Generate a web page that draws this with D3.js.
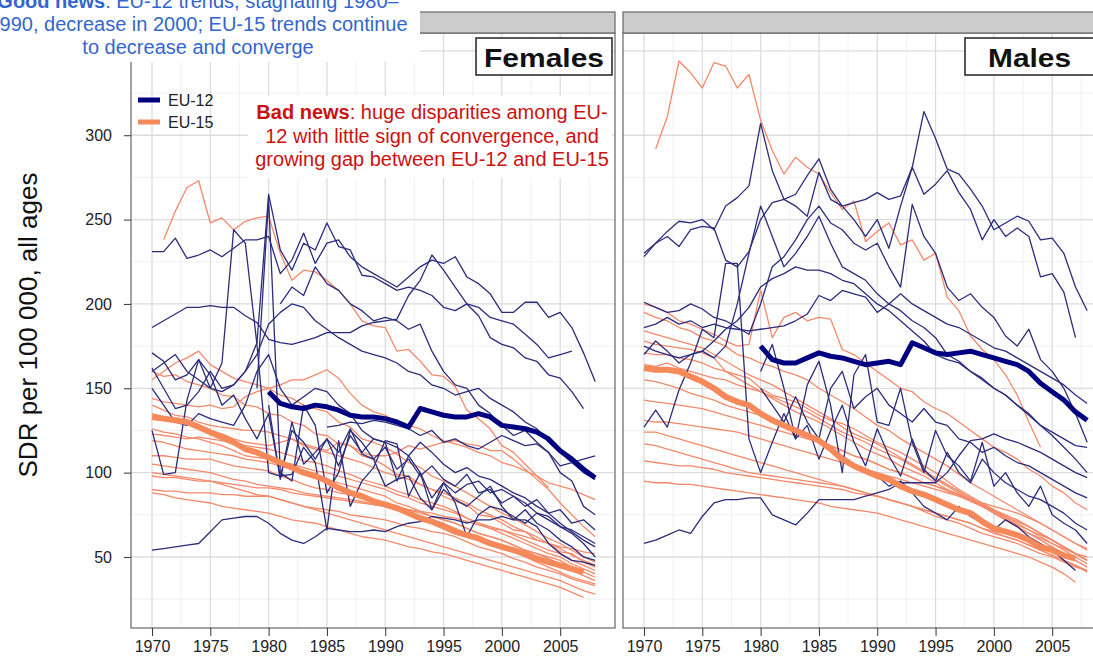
<!DOCTYPE html>
<html>
<head>
<meta charset="utf-8">
<script src="https://cdn.jsdelivr.net/npm/d3@7"></script>
<style>
  body { margin: 0; background: #fff; }
  svg { display: block; font-family: "Liberation Sans", Arial, sans-serif; }
</style>
</head>
<body>
<svg id="chart" width="1093" height="656"></svg>
<script>
// ---- data (SDR per 100 000, all ages) ----
const xTickYears = [1970, 1975, 1980, 1985, 1990, 1995, 2000, 2005];
const yTickValues = [50, 100, 150, 200, 250, 300];

// group averages
const femalesEU15Mean = { start: 1970, values: [133,132,131,130,127,124,121,118,114,112,109,106,103,100,98,95,91,88,86,83,81,79,76,73,71,68,65,63,61,58,56,54,52,49,47,45,43,41] };
const femalesEU12Mean = { start: 1980, values: [148,141,139,138,140,139,137,134,133,133,132,130,127,138,136,134,133,133,135,133,128,127,126,124,120,113,108,102,97] };
const malesEU15Mean = { start: 1970, values: [162,161,161,160,157,154,150,145,142,140,135,131,128,125,122,119,114,108,104,101,98,96,92,89,87,84,81,78,76,71,67,65,63,60,56,54,51,49] };
const malesEU12Mean = { start: 1980, values: [175,167,165,165,168,171,169,168,166,164,165,166,164,177,174,171,170,171,172,170,168,166,164,160,153,148,143,136,131] };

// EU-15 countries, females
const femalesEU15Lines = [
  { start: 1971, values: [238,255,269,273,248,251,244,249,251,252,230,214,220,219,214,208,200,190,187,186,172,173,166,158,157,151,137,132,126,116,112,105,98,91] },
  { start: 1970, values: [160,157,158,154,152,150,146,145,140,139,135,134,130,128,123,122,117,116,110,108,104,99,98,93,90,86,83,81,75,74,70,66,65,60,58,53,52,47,44] },
  { start: 1970, values: [155,160,165,168,172,164,160,156,154,152,150,146,144,140,138,136,130,127,120,118,115,111,106,103,98,95,92,88,84,80,76,73,69,65,61,58,54,50,47] },
  { start: 1970, values: [144,142,141,140,139,140,138,139,145,148,150,152,155,155,158,161,156,147,140,136,134,130,128,126,122,119,117,115,112,110,106,104,101,98,94,92,90,87,84] },
  { start: 1970, values: [140,137,134,133,130,128,127,126,125,125,124,122,120,116,114,112,110,108,106,103,100,98,96,93,90,88,85,82,78,75,72,68,65,62,58,55,51,48,45] },
  { start: 1970, values: [126,124,123,121,120,118,116,113,110,109,108,106,105,103,101,100,98,96,94,92,90,87,85,82,80,78,76,73,70,68,66,63,60,57,54,52,48,45,42] },
  { start: 1970, values: [123,122,121,120,121,120,119,117,116,115,114,112,110,107,106,104,101,99,96,94,92,89,87,84,82,80,77,73,70,67,64,61,58,55,52,50,46,43,40] },
  { start: 1970, values: [119,118,116,114,113,112,111,110,108,107,106,104,102,99,98,96,94,92,90,88,86,82,80,77,74,72,70,67,64,62,60,57,54,52,50,48,44,41,38] },
  { start: 1970, values: [110,110,109,108,108,108,106,104,103,102,101,98,96,93,91,90,88,87,85,83,82,80,78,76,74,72,70,67,64,62,60,57,54,52,49,46,42,39,36] },
  { start: 1970, values: [105,104,103,102,101,100,98,96,95,93,92,91,90,88,87,86,85,84,83,81,80,79,78,77,76,74,73,71,69,67,66,64,62,60,58,56,55,53,52] },
  { start: 1970, values: [98,97,97,96,95,95,94,93,92,91,91,90,88,87,86,85,84,83,82,81,80,78,76,74,72,70,67,64,61,58,56,53,50,47,44,41,38,36,34] },
  { start: 1970, values: [90,89,89,88,88,88,87,87,86,86,86,84,82,80,79,78,77,75,74,73,72,70,68,67,65,64,62,59,56,54,52,49,47,44,42,40,37,35,33] },
  { start: 1970, values: [100,99,98,97,96,95,93,91,89,87,86,84,82,80,78,76,74,72,70,68,66,64,62,60,58,56,54,52,50,48,46,44,42,40,38,36,33,30,28] },
  { start: 1970, values: [88,87,85,84,83,82,80,79,78,77,76,74,72,71,70,68,66,64,62,61,60,58,56,55,53,52,50,48,46,44,42,40,38,36,34,32,29,26] },
  { start: 1970, values: [135,133,131,130,128,125,123,120,118,117,116,118,120,117,115,113,118,116,112,110,110,112,116,114,116,118,119,117,116,113,113,108,102,96,90,82,75,68,62] }
];

// EU-12 countries, females
const femalesEU12Lines = [
  { start: 1970, values: [231,231,239,227,229,232,228,233,238,238,240,218,226,242,224,236,238,228,222,218,214,210,216,222,226,224,228,216,212,206,195,195,201,201,192,195,186,171,154] },
  { start: 1970, values: [186,190,194,198,198,199,198,198,193,189,179,177,176,178,180,183,183,183,187,189,190,191,205,214,229,220,210,200,193,180,176,174,168,166,158,156,148,138] },
  { start: 1970, values: [162,150,138,140,148,160,150,152,160,177,265,232,220,236,232,248,234,232,217,216,212,208,210,208,205,198,196,200,198,192,190,188,182,176,168,170,172] },
  { start: 1970, values: [171,166,155,158,167,150,165,244,236,176,100,98,99,115,106,66,119,80,95,103,119,117,86,100,78,94,82,62,75,80,78,74,70,76,72,68,66,62,58] },
  { start: 1970, values: [125,99,100,143,167,158,140,146,132,120,135,97,125,118,108,120,112,126,111,108,115,102,108,98,104,96,92,99,88,90,82,86,80,84,76,78,70,72,66] },
  { start: 1970, values: [54,55,56,57,58,65,72,73,74,74,70,64,60,58,62,67,66,65,65,66,65,68,70,71,74,73,72,70,72,72,74,72,72,68,58,52,48,47,45] },
  { start: 1985, values: [127,128,130,129,131,130,128,126,122,125,118,120,116,114,118,122,119,116,117,112,104,106,108,110] },
  { start: 1981, values: [200,210,205,222,212,208,200,196,190,192,190,185,188,172,160,152,150,140,135,128,122,125,118,112,100,95,80,75] },
  { start: 1970, values: [150,140,130,128,135,132,130,128,140,160,170,150,140,145,150,148,140,135,125,120,118,115,110,118,112,105,100,103,98,96,92,88,85,80,76,70,65,60,56] },
  { start: 1980, values: [140,96,130,105,112,120,104,122,112,120,118,95,110,100,85,94,88,93,95,88,90,86,82,76,74,68,64,58,50] },
  { start: 1979, values: [150,262,100,95,140,128,88,100,125,118,108,92,96,98,85,78,90,84,80,86,92,80,72,78,70,66,60,56,50,48] },
  { start: 1970, values: [160,165,170,160,155,150,148,152,160,170,188,195,200,198,190,185,180,176,172,170,168,165,160,158,152,150,146,148,150,144,140,136,130,126,118,112,106,100,96] }
];

// EU-15 countries, males
const malesEU15Lines = [
  { start: 1971, values: [292,311,344,337,328,343,341,328,336,309,291,277,287,281,277,266,256,261,237,243,248,235,238,226,230,204,196,181,173,167,158,146,130,115] },
  { start: 1970, values: [200,198,195,190,188,185,182,178,175,176,208,180,192,195,190,192,191,173,170,165,160,155,150,148,142,138,135,130,125,120,115,112,108,102,98,92,88,82,78] },
  { start: 1970, values: [195,192,190,186,184,180,178,175,170,168,165,163,160,158,155,150,146,142,138,133,128,125,120,116,112,108,104,99,94,90,86,82,78,74,70,66,62,58,55] },
  { start: 1970, values: [184,182,180,178,176,174,170,166,162,158,155,152,148,144,140,136,132,127,123,120,117,113,109,105,101,97,93,89,85,81,77,73,69,66,63,60,56,52,48] },
  { start: 1970, values: [178,176,175,174,173,171,168,160,156,152,148,145,142,139,136,132,128,124,121,118,114,111,108,104,100,96,92,88,84,80,76,72,68,64,61,58,54,50,46] },
  { start: 1970, values: [171,170,170,168,167,165,162,160,158,156,150,146,144,142,138,134,131,129,126,122,118,115,112,108,104,100,95,90,86,82,78,74,70,66,62,58,55,52,50] },
  { start: 1970, values: [164,163,165,162,160,158,156,155,152,150,148,144,140,136,133,130,126,122,118,114,111,108,104,101,98,94,90,87,84,80,76,72,68,64,60,56,52,48,44] },
  { start: 1970, values: [155,154,152,150,147,145,143,140,138,136,134,131,128,125,122,119,116,113,110,108,105,102,100,97,94,92,89,86,83,80,77,74,71,68,64,60,56,52,48] },
  { start: 1970, values: [143,142,141,140,139,138,136,134,132,130,128,126,124,122,120,118,116,113,110,108,105,102,100,97,94,92,90,87,84,81,78,75,72,68,64,60,56,52,48] },
  { start: 1970, values: [131,130,130,129,128,127,126,125,124,122,120,118,116,114,112,110,108,106,104,102,100,98,96,94,92,90,88,86,84,82,80,78,76,73,70,66,62,58,54] },
  { start: 1970, values: [124,124,122,120,118,116,114,112,110,108,106,104,102,100,98,96,94,92,90,88,86,84,82,80,77,74,72,70,67,64,62,60,58,55,52,50,47,44,42] },
  { start: 1970, values: [117,116,114,112,110,108,106,104,102,100,99,98,97,96,95,94,93,92,90,88,86,84,82,80,78,76,74,72,70,67,64,62,60,57,54,51,48,45,42] },
  { start: 1970, values: [107,106,105,104,104,103,102,100,99,98,97,96,95,94,93,92,91,90,88,87,86,84,82,80,78,76,74,72,70,67,65,62,60,57,54,51,48,45,41] },
  { start: 1970, values: [95,94,94,93,93,92,91,90,89,88,87,86,85,84,83,82,80,79,78,77,76,74,72,70,68,66,64,62,60,58,56,54,52,50,47,44,40,35] }
];

// EU-12 countries, males
const malesEU12Lines = [
  { start: 1970, values: [228,236,243,249,248,250,244,258,263,270,307,279,262,265,276,286,268,258,260,262,266,262,264,281,314,298,280,277,268,258,244,248,252,249,238,239,230,210,196] },
  { start: 1970, values: [230,236,240,234,244,246,245,226,222,231,250,260,262,258,252,278,262,258,250,240,250,233,258,281,265,271,279,266,256,238,250,240,245,240,216,218,207,180] },
  { start: 1970, values: [201,198,195,196,200,197,192,190,186,182,200,222,228,238,250,258,248,244,236,232,236,222,210,259,240,230,210,202,206,198,192,181,175,185,167,160,150,135,118] },
  { start: 1970, values: [186,188,192,188,190,186,188,186,185,184,185,186,187,190,194,205,202,208,206,204,195,200,206,200,196,192,188,186,182,178,174,172,168,164,160,156,152,146,141] },
  { start: 1970, values: [127,137,127,149,165,185,180,224,224,120,100,118,135,120,128,108,125,140,118,104,126,110,98,120,102,95,112,100,94,108,100,94,90,86,84,80,76,70,66] },
  { start: 1970, values: [58,60,63,66,64,74,82,84,84,85,85,75,72,69,76,84,84,84,84,86,88,90,94,94,94,94,100,110,119,120,123,120,118,115,112,108,104,100,97] },
  { start: 1980, values: [160,176,150,120,152,166,140,100,158,170,130,128,150,118,100,125,110,104,95,118,92,100,88,80,92,75,70,66,58] },
  { start: 1970, values: [170,178,172,165,170,172,168,175,200,230,258,240,222,230,240,252,236,222,218,214,206,200,196,190,186,180,170,166,160,155,150,146,140,135,128,122,115,108,100] },
  { start: 1970, values: [175,172,170,168,170,172,178,185,190,198,210,215,218,222,220,220,218,214,212,206,200,196,190,184,178,170,167,165,160,156,150,146,140,134,128,124,120,116,115] },
  { start: 1980, values: [150,140,130,145,130,120,150,160,138,145,150,140,135,130,138,130,128,120,118,112,115,110,106,104,100,96,92,88,85] },
  { start: 1987, values: [110,105,100,98,92,95,88,80,76,72,80,74,70,66,72,68,62,58,54,48,42] }
];

// ---- layout ----
const W = 1093, H = 656;
const plotTop = 33, plotBottom = 628, stripTop = 12;
const yearDomain = [1968.2, 2009.7];
const navy = "#2c2c7c", navyThick = "#000080";
const salmon = "#f4896a", salmonThick = "#f5895a";

const panels = [
  { title: "Females", left: 131, right: 615, eu15: femalesEU15Lines, eu12: femalesEU12Lines, mean15: femalesEU15Mean, mean12: femalesEU12Mean, box: [476, 612], textLen: 120, yAxis: true },
  { title: "Males", left: 623, right: 1107, eu15: malesEU15Lines, eu12: malesEU12Lines, mean15: malesEU15Mean, mean12: malesEU12Mean, box: [965, 1100], textLen: 83, yAxis: false }
];

const svg = d3.select("#chart");
svg.append("rect").attr("width", W).attr("height", H).attr("fill", "#fff");

const y = d3.scaleLinear().domain([7.9, 360.6]).range([plotBottom, plotTop]);
const toPoints = s => s.values.map((v, i) => [s.start + i, v]);

panels.forEach((p, k) => {
  const x = d3.scaleLinear().domain(yearDomain).range([p.left, p.right]);
  const g = svg.append("g");

  g.append("clipPath").attr("id", "clip" + k)
    .append("rect")
    .attr("x", p.left).attr("y", plotTop)
    .attr("width", p.right - p.left).attr("height", plotBottom - plotTop);

  // minor grid
  const minorX = [1967.5, 1972.5, 1977.5, 1982.5, 1987.5, 1992.5, 1997.5, 2002.5, 2007.5];
  const minorY = [25, 75, 125, 175, 225, 275, 325];
  const grid = g.append("g").attr("clip-path", `url(#clip${k})`);
  grid.selectAll(".mx").data(minorX).enter().append("line")
    .attr("x1", d => x(d)).attr("x2", d => x(d))
    .attr("y1", plotTop).attr("y2", plotBottom)
    .attr("stroke", "#f0f0f0").attr("stroke-width", 1);
  grid.selectAll(".my").data(minorY).enter().append("line")
    .attr("x1", p.left).attr("x2", p.right)
    .attr("y1", d => y(d)).attr("y2", d => y(d))
    .attr("stroke", "#f0f0f0").attr("stroke-width", 1);
  // major grid
  grid.selectAll(".gx").data(xTickYears).enter().append("line")
    .attr("x1", d => x(d)).attr("x2", d => x(d))
    .attr("y1", plotTop).attr("y2", plotBottom)
    .attr("stroke", "#dcdcdc").attr("stroke-width", 1.3);
  grid.selectAll(".gy").data([50, 100, 150, 200, 250, 300, 350]).enter().append("line")
    .attr("x1", p.left).attr("x2", p.right)
    .attr("y1", d => y(d)).attr("y2", d => y(d))
    .attr("stroke", "#dcdcdc").attr("stroke-width", 1.3);

  const line = d3.line().x(d => x(d[0])).y(d => y(d[1]));
  const lines = g.append("g").attr("clip-path", `url(#clip${k})`)
    .attr("fill", "none").attr("stroke-linejoin", "round");

  lines.selectAll(".s15").data(p.eu15).enter().append("path")
    .attr("d", d => line(toPoints(d)))
    .attr("stroke", salmon).attr("stroke-width", 1.3);
  lines.selectAll(".s12").data(p.eu12).enter().append("path")
    .attr("d", d => line(toPoints(d)))
    .attr("stroke", navy).attr("stroke-width", 1.3);
  lines.append("path").attr("d", line(toPoints(p.mean15)))
    .attr("stroke", salmonThick).attr("stroke-width", 6);
  lines.append("path").attr("d", line(toPoints(p.mean12)))
    .attr("stroke", navyThick).attr("stroke-width", 5);

  // panel border and strip
  g.append("rect")
    .attr("x", p.left).attr("y", plotTop)
    .attr("width", p.right - p.left).attr("height", plotBottom - plotTop)
    .attr("fill", "none").attr("stroke", "#666").attr("stroke-width", 1.2);
  g.append("rect")
    .attr("x", p.left).attr("y", stripTop)
    .attr("width", p.right - p.left).attr("height", plotTop - stripTop)
    .attr("fill", "#cccccc").attr("stroke", "#666").attr("stroke-width", 1.2);

  // x axis
  const xAxis = g.append("g")
    .attr("transform", `translate(0,${plotBottom})`)
    .call(d3.axisBottom(x).tickValues(xTickYears).tickFormat(d3.format("d")).tickSize(8).tickPadding(5));
  xAxis.select(".domain").remove();
  xAxis.selectAll("line").attr("stroke", "#333");
  xAxis.selectAll("text").attr("font-size", 16).attr("fill", "#222")
    .attr("font-family", "Liberation Sans, Arial, sans-serif");

  if (p.yAxis) {
    const yAxis = g.append("g")
      .attr("transform", `translate(${p.left},0)`)
      .call(d3.axisLeft(y).tickValues(yTickValues).tickSize(7).tickPadding(12));
    yAxis.select(".domain").remove();
    yAxis.selectAll("line").attr("stroke", "#333");
    yAxis.selectAll("text").attr("font-size", 16).attr("fill", "#222")
      .attr("font-family", "Liberation Sans, Arial, sans-serif");
  }

  // panel title box
  g.append("rect")
    .attr("x", p.box[0]).attr("y", 38)
    .attr("width", p.box[1] - p.box[0]).attr("height", 37)
    .attr("fill", "#fff").attr("stroke", "#222").attr("stroke-width", 1.5);
  g.append("text")
    .attr("x", (p.box[0] + p.box[1]) / 2 - (k === 1 ? 3 : 0)).attr("y", 67)
    .attr("text-anchor", "middle")
    .attr("font-size", 25).attr("font-weight", "bold").attr("fill", "#111")
    .attr("textLength", p.textLen).attr("lengthAdjust", "spacingAndGlyphs")
    .text(p.title);
});

// y axis title
svg.append("text")
  .attr("transform", "translate(37,325) rotate(-90)")
  .attr("text-anchor", "middle")
  .attr("font-size", 26).attr("fill", "#111")
  .text("SDR per 100 000, all ages");

// legend
const legendItems = [
  { label: "EU-12", color: navyThick, yPos: 100 },
  { label: "EU-15", color: salmonThick, yPos: 122 }
];
const legend = svg.append("g");
legend.selectAll("line").data(legendItems).enter().append("line")
  .attr("x1", 138).attr("x2", 160)
  .attr("y1", d => d.yPos).attr("y2", d => d.yPos)
  .attr("stroke", d => d.color).attr("stroke-width", 5);
legend.selectAll("text").data(legendItems).enter().append("text")
  .attr("x", 168).attr("y", d => d.yPos + 6)
  .attr("font-size", 16).attr("fill", "#222")
  .text(d => d.label);

// "Bad news" annotation
svg.append("rect").attr("x", 248).attr("y", 96).attr("width", 364).attr("height", 82).attr("fill", "#fff");
const bad = svg.append("text").attr("text-anchor", "middle").attr("font-size", 20).attr("fill", "#cc1111");
const b1 = bad.append("tspan").attr("x", 432).attr("y", 119);
b1.append("tspan").attr("font-weight", "bold").text("Bad news");
b1.append("tspan").text(": huge disparities among EU-");
bad.append("tspan").attr("x", 432).attr("y", 143).text("12 with little sign of convergence, and");
bad.append("tspan").attr("x", 432).attr("y", 166).text("growing gap between EU-12 and EU-15");

// "Good news" annotation (cropped at the top-left edge, as in the source)
svg.append("rect").attr("x", 0).attr("y", 0).attr("width", 420).attr("height", 62).attr("fill", "#fff");
const good = svg.append("text").attr("text-anchor", "middle").attr("font-size", 20).attr("fill", "#3366cc");
const g1 = good.append("tspan").attr("x", 198).attr("y", 8);
g1.append("tspan").attr("font-weight", "bold").text("Good news");
g1.append("tspan").text(": EU-12 trends, stagnating 1980–");
good.append("tspan").attr("x", 198).attr("y", 31).text("1990, decrease in 2000; EU-15 trends continue");
good.append("tspan").attr("x", 198).attr("y", 54).text("to decrease and converge");
</script>
</body>
</html>
